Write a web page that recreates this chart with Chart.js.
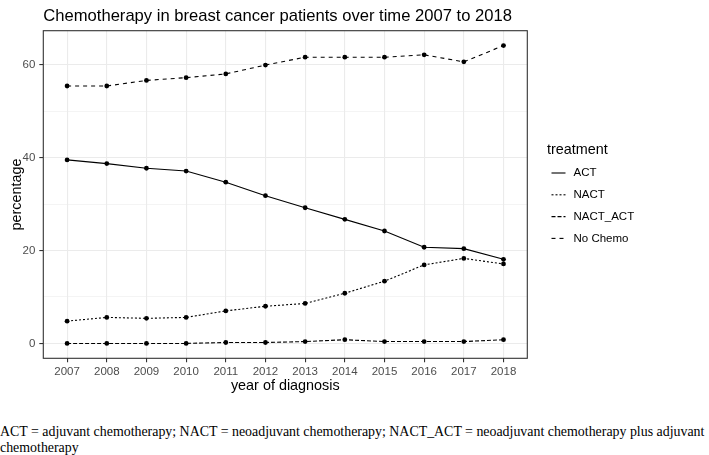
<!DOCTYPE html>
<html>
<head>
<meta charset="utf-8">
<script src="https://cdn.jsdelivr.net/npm/chart.js@4.4.1/dist/chart.umd.min.js"></script>
<style>
  html, body { margin: 0; padding: 0; background: #fff; }
  #wrap { position: relative; width: 709px; height: 455px; overflow: hidden; }
  #chart { position: absolute; left: 0; top: 0; }
  #caption {
    position: absolute; left: 0; top: 424px;
    font-family: "Liberation Serif", "Times New Roman", serif;
    font-size: 13.9px; line-height: 15.5px; color: #000; white-space: nowrap;
  }
</style>
</head>
<body>
<div id="wrap">
  <canvas id="chart" width="709" height="420" style="width:709px;height:420px"></canvas>
  <div id="caption">ACT = adjuvant chemotherapy; NACT = neoadjuvant chemotherapy; NACT_ACT = neoadjuvant chemotherapy plus adjuvant<br>chemotherapy</div>
</div>
<script>
const years = [2007, 2008, 2009, 2010, 2011, 2012, 2013, 2014, 2015, 2016, 2017, 2018];
const act = [39.5, 38.7, 37.7, 37.1, 34.7, 31.8, 29.2, 26.7, 24.2, 20.7, 20.4, 18.1];
const nact = [4.8, 5.6, 5.4, 5.6, 7.0, 8.0, 8.6, 10.8, 13.4, 16.9, 18.3, 17.1];
const nactAct = [0, 0, 0, 0, 0.2, 0.2, 0.4, 0.8, 0.4, 0.4, 0.4, 0.8];
const noChemo = [55.4, 55.4, 56.6, 57.2, 58.0, 59.9, 61.6, 61.6, 61.6, 62.1, 60.6, 64.1];

const seriesNames = ['ACT', 'NACT', 'NACT_ACT', 'No Chemo'];
const seriesDash = [[], [2, 2], [4, 2], [4, 4]];
const seriesValues = [act, nact, nactAct, noChemo];

const FONT = '"Liberation Sans", Arial, sans-serif';

const toPoints = vals => vals.map((v, i) => ({ x: years[i], y: v }));

// titles, panel border and legend, drawn like ggplot's theme_bw
const decorations = {
    id: 'decorations',
    afterDraw(chart) {
        const ctx = chart.ctx;
        const a = chart.chartArea;
        ctx.save();

        ctx.strokeStyle = '#333333';
        ctx.lineWidth = 1.1;
        ctx.setLineDash([]);
        ctx.strokeRect(a.left, a.top, a.right - a.left, a.bottom - a.top);

        ctx.fillStyle = '#000';
        ctx.font = '16.6px ' + FONT;
        ctx.textAlign = 'left';
        ctx.textBaseline = 'alphabetic';
        ctx.fillText('Chemotherapy in breast cancer patients over time 2007 to 2018', a.left, 21);

        ctx.font = '14.4px ' + FONT;
        ctx.textAlign = 'center';
        ctx.fillText('year of diagnosis', (a.left + a.right) / 2, 390);

        ctx.save();
        ctx.translate(21, (a.top + a.bottom) / 2);
        ctx.rotate(-Math.PI / 2);
        ctx.fillText('percentage', 0, 0);
        ctx.restore();

        // legend
        ctx.textAlign = 'left';
        ctx.fillText('treatment', 547, 154);
        ctx.font = '11.5px ' + FONT;
        ctx.textBaseline = 'middle';
        chart.data.datasets.forEach((ds, i) => {
            const y = 173 + i * 21.8;
            ctx.strokeStyle = '#000';
            ctx.lineWidth = 1.1;
            ctx.setLineDash(ds.borderDash);
            ctx.beginPath();
            ctx.moveTo(551.5, y);
            ctx.lineTo(565.5, y);
            ctx.stroke();
            ctx.fillText(ds.label, 573.5, y);
        });
        ctx.restore();
    }
};

new Chart(document.getElementById('chart'), {
    type: 'line',
    data: {
        datasets: seriesNames.map((name, i) => ({
            label: name,
            data: toPoints(seriesValues[i]),
            borderColor: '#000',
            borderWidth: 1.1,
            borderDash: seriesDash[i],
            pointRadius: 2.4,
            pointHoverRadius: 2.4,
            pointBackgroundColor: '#000',
            pointBorderWidth: 0,
            tension: 0,
            fill: false
        }))
    },
    options: {
        responsive: false,
        animation: false,
        layout: {
            padding: { top: 30.7, right: 709 - 527.3, left: 0, bottom: 0 }
        },
        plugins: {
            legend: { display: false },
            tooltip: { enabled: false },
            title: { display: false }
        },
        scales: {
            x: {
                type: 'linear',
                min: 2006.4,
                max: 2018.6,
                afterFit: scale => { scale.height = 420 - 358.3; },
                border: { display: false },
                grid: {
                    color: '#EBEBEB',
                    lineWidth: 1.1,
                    tickColor: '#333333',
                    tickWidth: 1.1,
                    tickLength: 4
                },
                ticks: {
                    stepSize: 1,
                    includeBounds: false,
                    autoSkip: false,
                    maxRotation: 0,
                    padding: 3,
                    color: '#4D4D4D',
                    font: { family: FONT, size: 11.5 },
                    callback: v => String(v)
                }
            },
            y: {
                min: -3.2,
                max: 67.3,
                afterFit: scale => { scale.width = 43.3; },
                border: { display: false },
                grid: {
                    color: '#EBEBEB',
                    lineWidth: c => (c.tick && c.tick.value % 20 === 0) ? 1.1 : 0.55,
                    tickColor: c => (c.tick && c.tick.value % 20 === 0) ? '#333333' : 'rgba(0,0,0,0)',
                    tickWidth: 1.1,
                    tickLength: 4
                },
                ticks: {
                    stepSize: 10,
                    includeBounds: false,
                    padding: 4,
                    color: '#4D4D4D',
                    font: { family: FONT, size: 11.5 },
                    callback: v => (v % 20 === 0 ? String(v) : '')
                }
            }
        }
    },
    plugins: [decorations]
});
</script>
</body>
</html>
